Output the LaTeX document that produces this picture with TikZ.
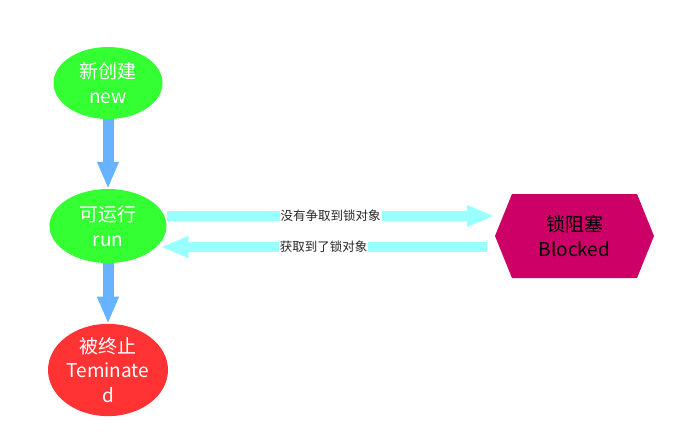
\documentclass[tikz,border=0pt]{standalone}
\usepackage{fontspec}
\setmainfont{Noto Sans CJK SC}
\usetikzlibrary{arrows.meta,shapes.geometric,shapes.symbols,positioning}

\definecolor{stategreen}{HTML}{33FF33}
\definecolor{statered}{HTML}{FF3333}
\definecolor{blockpink}{HTML}{CC0066}
\definecolor{flowblue}{HTML}{66B3FF}
\definecolor{lockcyan}{HTML}{99FFFF}

\begin{document}
\begin{tikzpicture}[x=1pt,y=-1pt,
    state/.style={ellipse, fill=#1, text=white, align=center, inner sep=0pt,
      font=\fontsize{19}{24.5}\selectfont},
    flow/.style={draw=flowblue, line width=11pt, -{Triangle[width=20pt,length=27pt]}},
    lock/.style={draw=lockcyan, line width=10pt, -{Triangle[width=20pt,length=28pt]}},
    locklabel/.style={fill=white, inner sep=1pt, text=black!85, font=\fontsize{12.5}{14}\selectfont}]

      \useasboundingbox (0,0) rectangle (688,439);
   %   \draw[help lines] (0,0) grid (688,439);

      \node [state=stategreen, minimum width=109pt, minimum height=72pt] (new) at (108,83) {新创建\\new};
      \node [state=stategreen, minimum width=117pt, minimum height=74pt] (run) at (108,226) {可运行\\run};
      \node [state=statered, minimum width=120pt, minimum height=74pt] (term) at (108,370) {被终止\\Teminate\\d};

      \node [signal, signal to=east and west, signal pointer angle=136, fill=blockpink, text=black,
        minimum width=159pt, minimum height=84pt, inner sep=0pt, align=center,
        font=\fontsize{19}{24.5}\selectfont] (blocked) at (574.5,236) {锁阻塞\\Blocked};

      \draw [flow] (new.south) -- (run.north);
      \draw [flow] (run.south) -- (term.north);

      \draw [lock] ([yshift=10pt]run.east) -- ([yshift=20pt]blocked.west)
        node [locklabel, midway] {没有争取到锁对象};
      \draw [lock] ([xshift=-8pt,yshift=-11pt]blocked.west) -- ([xshift=-6pt,yshift=-21pt]run.east)
        node [locklabel, midway] {获取到了锁对象};

    \end{tikzpicture}
\end{document}
